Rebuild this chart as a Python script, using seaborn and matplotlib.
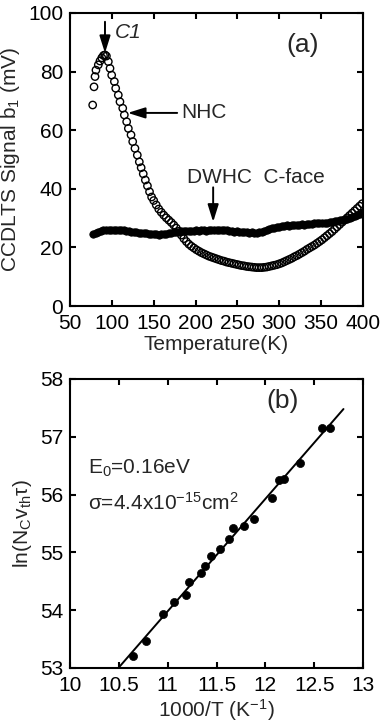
#!/usr/bin/env python3

import numpy as np
import matplotlib
matplotlib.use("Agg")
import matplotlib.pyplot as plt
import seaborn as sns

# (a) NHC, open circles
nhc_T = [77.1, 78.7, 79.9, 81.0, 83.8, 85.8, 88.0, 90.0, 91.8, 93.5, 95.8, 97.8,
         99.8, 103.0, 104.6, 107.7, 109.7, 113.0, 114.9, 117.7, 119.7, 122.9, 124.9,
         127.6, 130.4, 132.8, 135.0, 137.5, 140.0, 142.5, 145.0, 147.5,
         150, 153, 156, 159, 162, 165, 168, 171, 174, 177, 180, 183, 186, 189, 192,
         195, 198, 201, 204, 207, 210, 213, 216, 219, 222, 225, 228, 231, 234, 237,
         240, 243, 246, 249, 252, 255, 258, 261, 264, 267, 270, 273, 276, 279, 282,
         285, 288, 291, 294, 297, 300, 303, 306, 309, 312, 315, 318, 321, 324, 327,
         330, 333, 336, 339, 342, 345, 348, 351, 354, 357, 360, 363, 366, 369, 372,
         375, 378, 381, 384, 387, 390, 393, 396, 399]
nhc_b1 = [68.6, 74.8, 78.3, 80.5, 82.3, 83.6, 84.7, 85.5, 85.7, 85.3, 83.4, 81.1,
          78.8, 76.6, 74.3, 72.0, 69.7, 67.5, 65.2, 62.9, 60.6, 58.4, 56.1,
          53.8, 51.5, 49.2, 47.2, 45.1, 43.0, 41.0, 39.0, 37.2,
          36.0, 34.5, 33.1, 32.0, 31.0, 30.1, 29.3, 28.5, 27.6, 26.6, 25.5, 24.2,
          23.0, 22.0, 21.1, 20.4, 19.8, 19.2, 18.7, 18.2, 17.8, 17.4, 17.0, 16.7,
          16.4, 16.1, 15.8, 15.5, 15.3, 15.0, 14.8, 14.6, 14.4, 14.2, 14.0, 13.8,
          13.7, 13.5, 13.4, 13.3, 13.2, 13.1, 13.1, 13.1, 13.2, 13.3, 13.5, 13.7,
          13.9, 14.1, 14.4, 14.7, 15.1, 15.5, 15.9, 16.3, 16.8, 17.2, 17.7, 18.2,
          18.7, 19.3, 19.8, 20.3, 20.8, 21.4, 22.0, 22.6, 23.3, 24.0, 24.7, 25.4,
          26.2, 27.0, 27.8, 28.6, 29.3, 30.1, 30.9, 31.7, 32.5, 33.3, 34.1, 34.9]

# (a) DWHC C-face, filled circles
dwhc_T = [78, 81, 84, 87, 90, 93, 96, 99, 102, 105, 108, 111, 114, 117, 120, 123,
          126, 129, 132, 135, 138, 141, 144, 147, 150, 153, 156, 159, 162, 165, 168,
          171, 174, 177, 180, 183, 186, 189, 192, 195, 198, 201, 204, 207, 210, 213,
          216, 219, 222, 225, 228, 231, 234, 237, 240, 243, 246, 249, 252, 255, 258,
          261, 264, 267, 270, 273, 276, 279, 282, 285, 288, 291, 294, 297, 300, 303,
          306, 309, 312, 315, 318, 321, 324, 327, 330, 333, 336, 339, 342, 345, 348,
          351, 354, 357, 360, 363, 366, 369, 372, 375, 378, 381, 384, 387, 390, 393,
          396, 399]
dwhc_b1 = [24.5, 25.0, 25.4, 25.6, 25.8, 25.9, 26.0, 26.1, 26.0, 25.9, 26.0, 26.0,
           25.8, 25.7, 25.6, 25.4, 25.3, 25.1, 25.0, 24.9, 24.8, 24.9, 24.7, 24.6,
           24.5, 24.5, 24.4, 24.5, 24.6, 24.6, 24.8, 24.9, 25.1, 25.3, 25.4, 25.5,
           25.6, 25.5, 25.7, 25.6, 25.7, 25.8, 25.7, 25.8, 25.9, 25.7, 25.9, 26.0,
           25.8, 26.0, 26.1, 25.9, 26.1, 25.8, 25.6, 25.5, 25.4, 25.5, 25.3, 25.2,
           25.3, 25.1, 25.0, 25.1, 24.9, 24.9, 25.1, 25.4, 25.7, 26.0, 26.2, 26.5,
           26.7, 26.9, 27.1, 27.2, 27.3, 27.5, 27.4, 27.6, 27.7, 27.6, 27.8, 27.9,
           27.8, 28.0, 28.1, 28.0, 28.2, 28.3, 28.2, 28.4, 28.5, 28.5, 28.7, 28.8,
           28.9, 29.0, 29.2, 29.4, 29.6, 29.8, 30.1, 30.4, 30.7, 31.0, 31.3, 31.6]

# (b) Arrhenius points
inv_T = [10.64, 10.775, 10.95, 11.065, 11.19, 11.22, 11.345, 11.38, 11.44, 11.54,
         11.63, 11.67, 11.78, 11.88, 12.065, 12.14, 12.19, 12.35, 12.58, 12.66]
ln_val = [53.2, 53.47, 53.93, 54.14, 54.27, 54.49, 54.64, 54.77, 54.93, 55.06,
          55.23, 55.42, 55.45, 55.58, 55.94, 56.26, 56.27, 56.55, 57.15, 57.15]
fit_x = [10.5, 12.8]


def style_axes(ax):
    for s in ax.spines.values():
        s.set_visible(True)
        s.set_linewidth(1.5)
        s.set_color("black")
    ax.tick_params(direction="in", length=4, width=1.5, top=True, right=True,
                   labelsize=15, colors="black")
    ax.tick_params(axis="x", pad=6)
    ax.tick_params(axis="y", pad=5)


def arrow(ax, start, end):
    ax.annotate("", xy=end, xytext=start,
                arrowprops=dict(arrowstyle="-|>,head_length=0.7,head_width=0.22",
                                color="black", lw=1.4, mutation_scale=15,
                                shrinkA=0, shrinkB=0))


def main():
    sns.set_theme(style="ticks")
    plt.rcParams["font.family"] = ["Liberation Sans", "DejaVu Sans"]
    plt.rcParams["mathtext.fontset"] = "custom"
    plt.rcParams["mathtext.rm"] = "Liberation Sans"
    plt.rcParams["mathtext.it"] = "Liberation Sans:italic"

    fig = plt.figure(figsize=(3.81, 7.26), dpi=100)
    ax1 = fig.add_axes([0.1837, 0.5785, 0.7691, 0.4036])
    ax2 = fig.add_axes([0.1837, 0.0799, 0.7691, 0.3981])

    # panel (a)
    sns.scatterplot(x=dwhc_T, y=dwhc_b1, ax=ax1, marker="o", s=28,
                    color="black", edgecolor="black", linewidth=0.6, zorder=2)
    sns.scatterplot(x=nhc_T, y=nhc_b1, ax=ax1, marker="o", s=28,
                    facecolors="none", edgecolor="black", linewidth=1.0, zorder=3)
    ax1.set_xlim(50, 400)
    ax1.set_ylim(0, 100)
    ax1.set_xticks(range(50, 401, 50))
    ax1.set_yticks(range(0, 101, 20))
    style_axes(ax1)
    ax1.set_xlabel("Temperature(K)", fontsize=15, labelpad=1)
    ax1.set_ylabel(r"CCDLTS Signal b$_\mathregular{1}$ (mV)", fontsize=15, labelpad=4)

    arrow(ax1, (91.8, 97), (91.8, 86.3))
    ax1.text(104, 93.5, "C1", fontsize=15, style="italic", va="center", ha="left")
    arrow(ax1, (178, 65.9), (119, 65.9))
    ax1.text(183, 66, "NHC", fontsize=15, va="center", ha="left")
    arrow(ax1, (221, 40.5), (221, 28.7))
    ax1.text(190, 44, "DWHC  C-face", fontsize=15, va="center", ha="left")
    ax1.text(328, 89, "(a)", fontsize=19, va="center", ha="center")

    # panel (b)
    slope, icpt = np.polyfit(inv_T, ln_val, 1)
    fx = np.array(fit_x)
    sns.lineplot(x=fx, y=slope * fx + icpt, ax=ax2, color="black", lw=1.4)
    sns.scatterplot(x=inv_T, y=ln_val, ax=ax2, marker="o", s=34,
                    color="black", edgecolor="black", linewidth=0.5, zorder=3)
    ax2.set_xlim(10, 13)
    ax2.set_ylim(53, 58)
    ax2.set_xticks([10, 10.5, 11, 11.5, 12, 12.5, 13])
    ax2.set_xticklabels(["10", "10.5", "11", "11.5", "12", "12.5", "13"])
    ax2.set_yticks(range(53, 59))
    style_axes(ax2)
    ax2.set_xlabel(r"1000/T (K$^\mathregular{-1}$)", fontsize=15, labelpad=1)
    ax2.set_ylabel(r"ln(N$_\mathregular{C}$v$_\mathregular{th}$τ)", fontsize=15, labelpad=4)

    ax2.text(10.18, 56.45, r"E$_\mathregular{0}$=0.16eV", fontsize=15, va="center", ha="left")
    ax2.text(10.18, 55.85, r"σ=4.4x10$^\mathregular{-15}$cm$^\mathregular{2}$",
             fontsize=15, va="center", ha="left")
    ax2.text(12.18, 57.62, "(b)", fontsize=19, va="center", ha="center")

    fig.savefig("out.png", dpi=100)


if __name__ == "__main__":
    main()
